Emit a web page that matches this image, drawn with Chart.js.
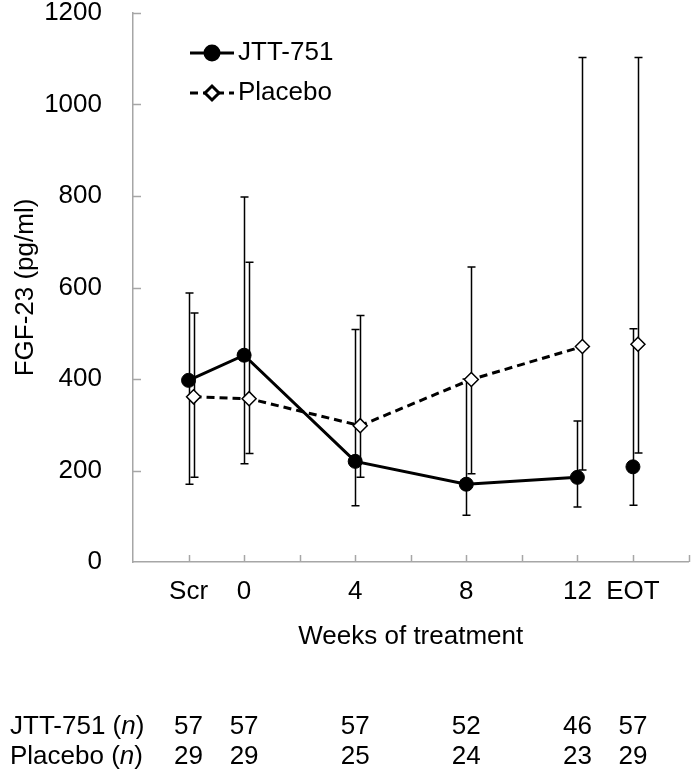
<!DOCTYPE html>
<html>
<head>
<meta charset="utf-8">
<script src="https://cdn.jsdelivr.net/npm/chart.js@4.4.1/dist/chart.umd.min.js"></script>
<style>
  html, body { margin: 0; padding: 0; background: #fff; }
  canvas { display: block; }
</style>
</head>
<body>
<canvas id="chart" width="697" height="775"></canvas>
<script>
/* FGF-23 over weeks of treatment, JTT-751 vs placebo, mean with error bars,
 * plus the n-table under the x axis. */

const weeks = [-2, 0, 4, 8, 12, 14];
const weekLabels = ["Scr", "0", "4", "8", "12", "EOT"];

const jttMean = [397, 452, 220, 170, 185, 208];
const jttUpper = [588, 798, 508, 400, 308, 510];
const jttLower = [170, 215, 123, 102, 120, 124];

const placeboMean = [361, 357, 298, 399, 471, 476];
const placeboUpper = [544, 655, 539, 645, 1103, 1103];
const placeboLower = [185, 237, 185, 193, 201, 238];

const jttN = [57, 57, 57, 52, 46, 57];
const placeboN = [29, 29, 25, 24, 23, 29];

const FONT = "'Liberation Sans', Arial, sans-serif";
const AXIS_GREY = "#a6a6a6";
const placeboShift = 0.18; // placebo markers sit a little right of the week

const hideLastGap = (color) => (c) =>
  c.p1DataIndex === weeks.length - 1 ? "rgba(0,0,0,0)" : color;

// error bars: vertical line + caps, drawn under the lines/markers
const errorBars = {
  id: "errorBars",
  beforeDatasetsDraw(chart) {
    const { ctx, scales: { x, y } } = chart;
    ctx.save();
    ctx.strokeStyle = "#000";
    ctx.lineWidth = 1.5;
    chart.data.datasets.forEach((ds) => {
      ds.data.forEach((p, j) => {
        const px = Math.round(x.getPixelForValue(p.x)) + 0.5;
        const top = y.getPixelForValue(ds.upper[j]);
        const bot = y.getPixelForValue(ds.lower[j]);
        ctx.beginPath();
        ctx.moveTo(px, top); ctx.lineTo(px, bot);
        ctx.moveTo(px - 4, top); ctx.lineTo(px + 4, top);
        ctx.moveTo(px - 4, bot); ctx.lineTo(px + 4, bot);
        ctx.stroke();
      });
    });
    ctx.restore();
  },
};

// Excel style tick marks pointing into the plot
const innerTicks = {
  id: "innerTicks",
  beforeDatasetsDraw(chart) {
    const { ctx, chartArea: a, scales: { x, y } } = chart;
    ctx.save();
    ctx.strokeStyle = AXIS_GREY;
    ctx.lineWidth = 1.5;
    ctx.beginPath();
    x.ticks.forEach((t) => {
      if (t.value === x.min) return;
      const px = Math.round(x.getPixelForValue(t.value)) + 0.5;
      ctx.moveTo(px, a.bottom); ctx.lineTo(px, a.bottom - 7);
    });
    y.ticks.forEach((t) => {
      if (t.value === y.min) return;
      const py = Math.round(y.getPixelForValue(t.value)) + 0.5;
      ctx.moveTo(a.left, py); ctx.lineTo(a.left + 8, py);
    });
    ctx.stroke();
    ctx.restore();
  },
};

// legend inside the plot: line + marker, then label
const insideLegend = {
  id: "insideLegend",
  afterDatasetsDraw(chart) {
    const { ctx, chartArea: a } = chart;
    ctx.save();
    chart.data.datasets.forEach((ds, i) => {
      const cy = a.top + 40 + i * 40;
      const x0 = a.left + 57, x1 = x0 + 44;
      ctx.strokeStyle = "#000";
      ctx.lineWidth = 3;
      ctx.setLineDash(ds.borderDash || []);
      ctx.beginPath();
      ctx.moveTo(x0, cy); ctx.lineTo(x1, cy);
      ctx.stroke();
      ctx.setLineDash([]);
      ctx.fillStyle = ds.pointBackgroundColor;
      ctx.strokeStyle = ds.pointBorderColor;
      Chart.helpers.drawPoint(ctx, {
        pointStyle: ds.pointStyle, radius: ds.pointRadius,
        rotation: 0, borderWidth: ds.pointBorderWidth,
      }, (x0 + x1) / 2, cy);
      ctx.fillStyle = "#000";
      ctx.font = "26px " + FONT;
      ctx.textBaseline = "middle";
      ctx.textAlign = "left";
      ctx.fillText(ds.label, x1 + 4, cy);
    });
    ctx.restore();
  },
};

// n table under the axis title
const nTable = {
  id: "nTable",
  afterDraw(chart) {
    const { ctx, scales: { x } } = chart;
    const rows = [
      { name: "JTT-751 (", n: jttN, y: 727 },
      { name: "Placebo (", n: placeboN, y: 757 },
    ];
    ctx.save();
    ctx.fillStyle = "#000";
    ctx.textBaseline = "middle";
    rows.forEach((r) => {
      let cx = 10;
      ctx.textAlign = "left";
      ctx.font = "26px " + FONT;
      ctx.fillText(r.name, cx, r.y);
      cx += ctx.measureText(r.name).width;
      ctx.font = "italic 26px " + FONT;
      ctx.fillText("n", cx, r.y);
      cx += ctx.measureText("n").width;
      ctx.font = "26px " + FONT;
      ctx.fillText(")", cx, r.y);
      ctx.textAlign = "center";
      r.n.forEach((v, i) => ctx.fillText(String(v), x.getPixelForValue(weeks[i]), r.y));
    });
    ctx.restore();
  },
};

Chart.defaults.font.family = FONT;
Chart.defaults.font.size = 26;
Chart.defaults.color = "#000";

new Chart(document.getElementById("chart"), {
  type: "line",
  data: {
    datasets: [
      {
        label: "JTT-751",
        data: weeks.map((w, i) => ({ x: w, y: jttMean[i] })),
        upper: jttUpper,
        lower: jttLower,
        borderColor: "#000",
        borderWidth: 3,
        segment: { borderColor: hideLastGap("#000") },
        pointStyle: "circle",
        pointRadius: 7,
        pointBackgroundColor: "#000",
        pointBorderColor: "#000",
        pointBorderWidth: 1,
      },
      {
        label: "Placebo",
        data: weeks.map((w, i) => ({ x: w + placeboShift, y: placeboMean[i] })),
        upper: placeboUpper,
        lower: placeboLower,
        borderColor: "#000",
        borderWidth: 3,
        borderDash: [8, 5],
        segment: { borderColor: hideLastGap("#000") },
        pointStyle: "rectRot",
        pointRadius: 7,
        pointBackgroundColor: "#fff",
        pointBorderColor: "#000",
        pointBorderWidth: 1.5,
      },
    ],
  },
  options: {
    responsive: false,
    animation: false,
    layout: { padding: { top: 13, right: 0, bottom: 123, left: 0 } },
    plugins: { legend: { display: false }, tooltip: { enabled: false } },
    scales: {
      x: {
        type: "linear",
        min: -4,
        max: 16,
        grid: { drawOnChartArea: false, drawTicks: false },
        border: { color: AXIS_GREY, width: 1.5 },
        ticks: {
          stepSize: 2,
          autoSkip: false,
          maxRotation: 0,
          padding: 14,
          callback: (v) => {
            const i = weeks.indexOf(v);
            return i < 0 ? "" : weekLabels[i];
          },
        },
        title: {
          display: true,
          text: "Weeks of treatment",
          padding: { top: 0, bottom: 0 },
          font: { size: 26, lineHeight: 1.2 },
        },
        afterFit: (s) => {
          s.height = 90;
          s.paddingLeft = 0;
          s.paddingRight = 0;
        },
      },
      y: {
        min: 0,
        max: 1200,
        grid: { drawOnChartArea: false, drawTicks: false },
        border: { color: AXIS_GREY, width: 1.5 },
        ticks: { stepSize: 200, padding: 31, callback: (v) => String(v) },
        title: {
          display: true,
          text: "FGF-23 (pg/ml)",
          padding: { top: 10, bottom: 0 },
          font: { size: 26, lineHeight: 1.2 },
        },
        afterFit: (s) => {
          s.width = 133;
          s.paddingTop = 0;
          s.paddingBottom = 0;
        },
      },
    },
  },
  plugins: [innerTicks, errorBars, insideLegend, nTable],
});
</script>
</body>
</html>
